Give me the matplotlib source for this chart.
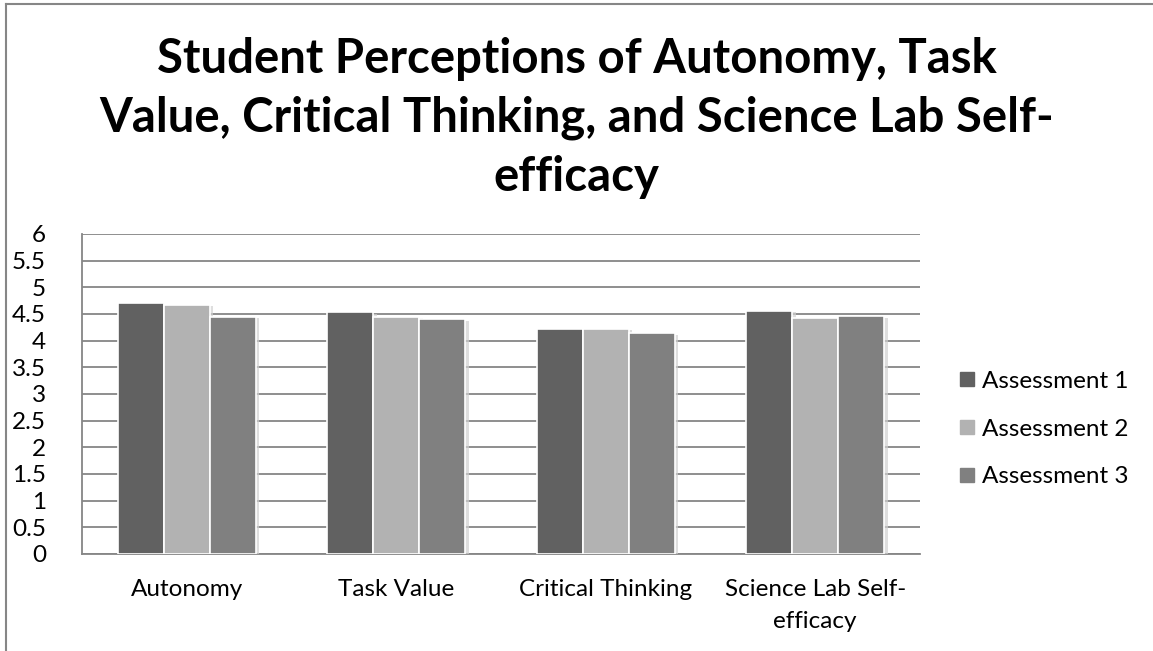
import matplotlib
matplotlib.use("Agg")
import matplotlib.pyplot as plt
import matplotlib.patheffects as pe
from matplotlib.lines import Line2D
import numpy as np

categories = ["Autonomy", "Task Value", "Critical Thinking", "Science Lab Self-\nefficacy"]
series_names = ["Assessment 1", "Assessment 2", "Assessment 3"]
assessment1 = [4.70, 4.53, 4.21, 4.56]
assessment2 = [4.67, 4.45, 4.22, 4.43]
assessment3 = [4.45, 4.40, 4.14, 4.46]
colors = ["#616161", "#b2b2b2", "#808080"]
yticks = [0, 0.5, 1, 1.5, 2, 2.5, 3, 3.5, 4, 4.5, 5, 5.5, 6]
ytick_labels = ["0", "0.5", "1", "1.5", "2", "2.5", "3", "3.5", "4", "4.5", "5", "5.5", "6"]
title = "Student Perceptions of Autonomy, Task\nValue, Critical Thinking, and Science Lab Self-\nefficacy"

plt.rcParams['font.family'] = ['Lato', 'DejaVu Sans']

W, H = 1153, 651
fig = plt.figure(figsize=(W / 100, H / 100), dpi=100)
ax = fig.add_axes([82 / W, (H - 554) / H, (920 - 82) / W, (554 - 234) / H])

values = [assessment1, assessment2, assessment3]
x = np.arange(len(categories))
bw = 0.22
for i, (vals, c, name) in enumerate(zip(values, colors, series_names)):
    ax.bar(x + (i - 1) * bw, vals, width=bw, color=c, edgecolor="white",
           linewidth=1.2, zorder=3, label=name,
           path_effects=[pe.SimplePatchShadow(offset=(2.5, -1), shadow_rgbFace="#d0d0d0", alpha=0.7),
                         pe.Normal()])

ax.set_xlim(-0.5, len(categories) - 0.5)
ax.set_ylim(0, 6)
ax.set_yticks(yticks)
ax.set_yticklabels(ytick_labels)
ax.set_xticks(x)
ax.set_xticklabels(categories, linespacing=1.65)
ax.yaxis.grid(True, color="#868686", linewidth=1.3, zorder=0)
ax.set_axisbelow(True)
ax.tick_params(axis="both", length=0, labelsize=17.5, colors="black")
ax.tick_params(axis="y", pad=26)
ax.tick_params(axis="x", pad=18)
for lbl in ax.get_yticklabels():
    lbl.set_horizontalalignment("right")
for s in ["top", "right"]:
    ax.spines[s].set_visible(False)
for s in ["left", "bottom"]:
    ax.spines[s].set_color("#868686")
    ax.spines[s].set_linewidth(1.3)

fig.text(0.5, 1 - 118 / H, title, ha="center", va="center", fontsize=34,
         fontweight="bold", linespacing=1.4)

handles = [Line2D([0], [0], marker="s", linestyle="", markersize=10,
                  markerfacecolor=c, markeredgecolor=c) for c in colors]
fig.legend(handles, series_names, loc="center left",
           bbox_to_anchor=(933 / W, 1 - 429 / H), frameon=False, fontsize=17.5,
           handletextpad=0.1, labelspacing=1.1, handlelength=1.0)

# outer chart border
fig.add_artist(Line2D([6 / W, 6 / W], [0, 1 - 4 / H], transform=fig.transFigure, color="#868686", linewidth=1.5))
fig.add_artist(Line2D([6 / W, 1 - 1 / W], [1 - 4 / H, 1 - 4 / H], transform=fig.transFigure, color="#868686", linewidth=1.5))

fig.savefig("out.png", dpi=100)
